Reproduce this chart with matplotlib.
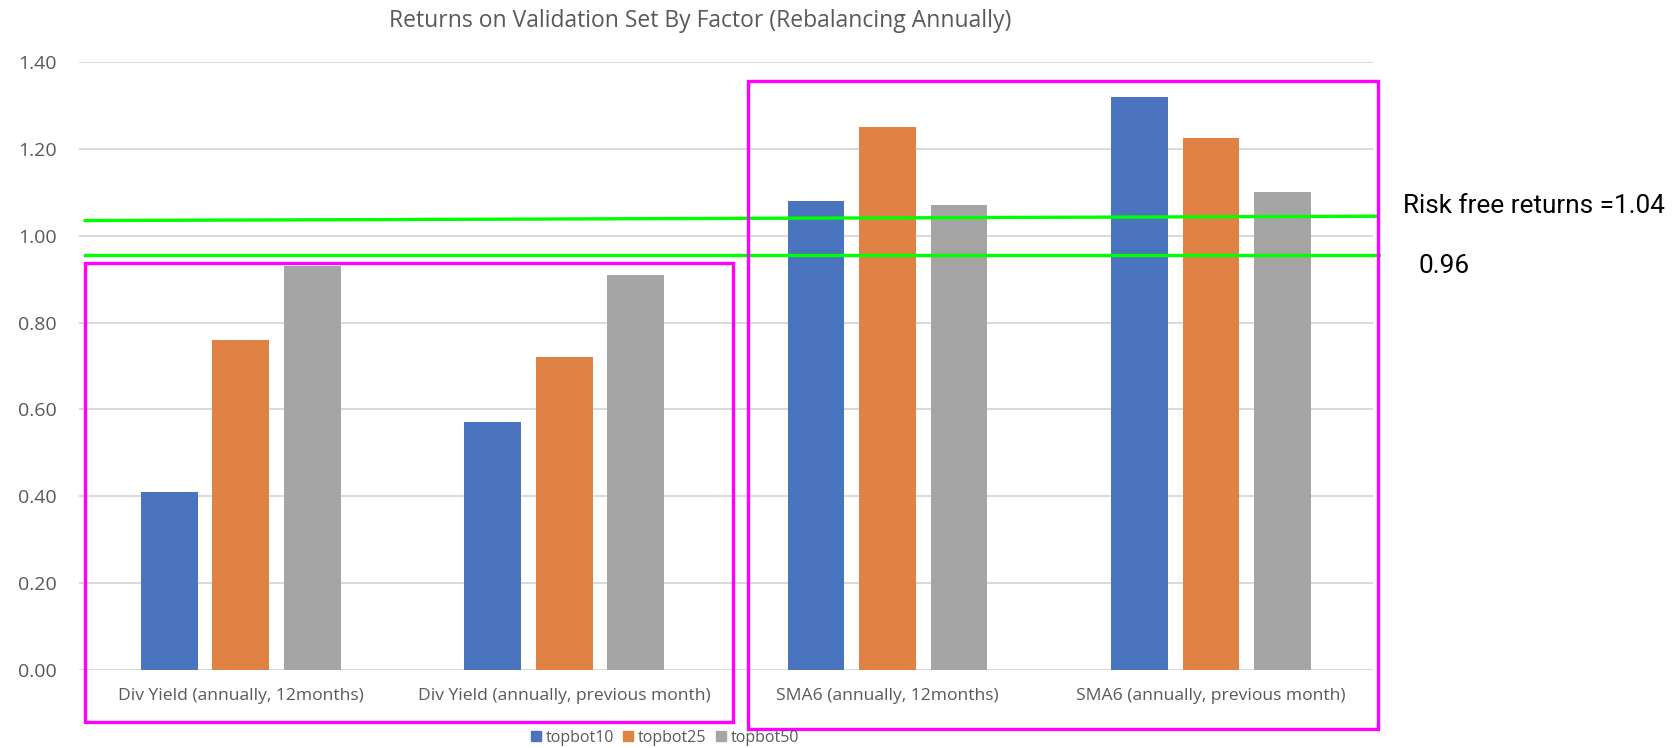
import numpy as np
import matplotlib
matplotlib.use("Agg")
import matplotlib.pyplot as plt
from matplotlib.patches import Rectangle
from matplotlib.lines import Line2D

# data
categories = ["Div Yield (annually, 12months)", "Div Yield (annually, previous month)",
              "SMA6 (annually, 12months)", "SMA6 (annually, previous month)"]
series_names = ["topbot10", "topbot25", "topbot50"]
topbot10 = [0.41, 0.57, 1.08, 1.32]
topbot25 = [0.76, 0.72, 1.25, 1.225]
topbot50 = [0.93, 0.91, 1.07, 1.10]
yticks = [0.0, 0.2, 0.4, 0.6, 0.8, 1.0, 1.2, 1.4]

# hand drawn risk-free lines (left y, right y)
rf_high = [1.035, 1.045]
rf_low = [0.956, 0.956]

colors = ["#4a74bd", "#df8244", "#a5a5a5"]
txt_gray = "#595959"

fig = plt.figure(figsize=(16.75, 7.48), dpi=100)
ax = fig.add_axes([0.0472, 0.1043, 0.7724, 0.8127])

x = np.arange(len(categories))
width = 0.175
step = 0.221
for i, vals in enumerate([topbot10, topbot25, topbot50]):
    ax.bar(x + (i - 1) * step, vals, width, color=colors[i], label=series_names[i], zorder=3)

ax.set_xlim(-0.5, 3.5)
ax.set_ylim(0, 1.4)
ax.set_yticks(yticks)
ax.set_yticklabels([f"{v:.2f}" for v in yticks], color=txt_gray, fontsize=14, family="Open Sans")
ax.set_xticks(x)
ax.set_xticklabels(categories, color=txt_gray, fontsize=12.6, family="Open Sans")
ax.tick_params(axis="both", length=0)
ax.tick_params(axis="x", pad=13)
ax.tick_params(axis="y", pad=16)
ax.yaxis.grid(True, color="#d9d9d9", linewidth=1.4, zorder=0)
for s in ax.spines.values():
    s.set_visible(False)

# green risk free lines
ax.plot([-0.481, 3.51], rf_high, color="#00ff00", lw=2.4, clip_on=False, zorder=5)
ax.plot([-0.481, 3.52], rf_low, color="#00ff00", lw=2.4, clip_on=False, zorder=5)

# magenta boxes
ax.add_patch(Rectangle((-0.481, -0.12), 2.002, 1.057, fill=False, edgecolor="#ff00ff",
                       lw=2.4, clip_on=False, zorder=6))
ax.add_patch(Rectangle((1.567, -0.135), 1.95, 1.491, fill=False, edgecolor="#ff00ff",
                       lw=2.4, clip_on=False, zorder=6))

ax.text(3.593, 1.068, "Risk free returns =1.04", fontsize=18.8, family="Roboto",
        va="center", ha="left", color="black")
ax.text(3.642, 0.930, "0.96", fontsize=18.8, family="Roboto", va="center", ha="left",
        color="black")

fig.text(0.418, 0.972, "Returns on Validation Set By Factor (Rebalancing Annually)",
         ha="center", va="center", fontsize=16.5, color=txt_gray, family="Open Sans")

handles = [Line2D([], [], marker="s", linestyle="", color=c, markersize=7.5) for c in colors]
fig.legend(handles, series_names, loc="center", bbox_to_anchor=(0.397, 0.014), ncol=3,
           frameon=False, prop={"family": "Open Sans", "size": 11.5}, labelcolor=txt_gray,
           handlelength=0.6, handletextpad=0.3, columnspacing=0.6)

fig.savefig("out.png", dpi=100)
